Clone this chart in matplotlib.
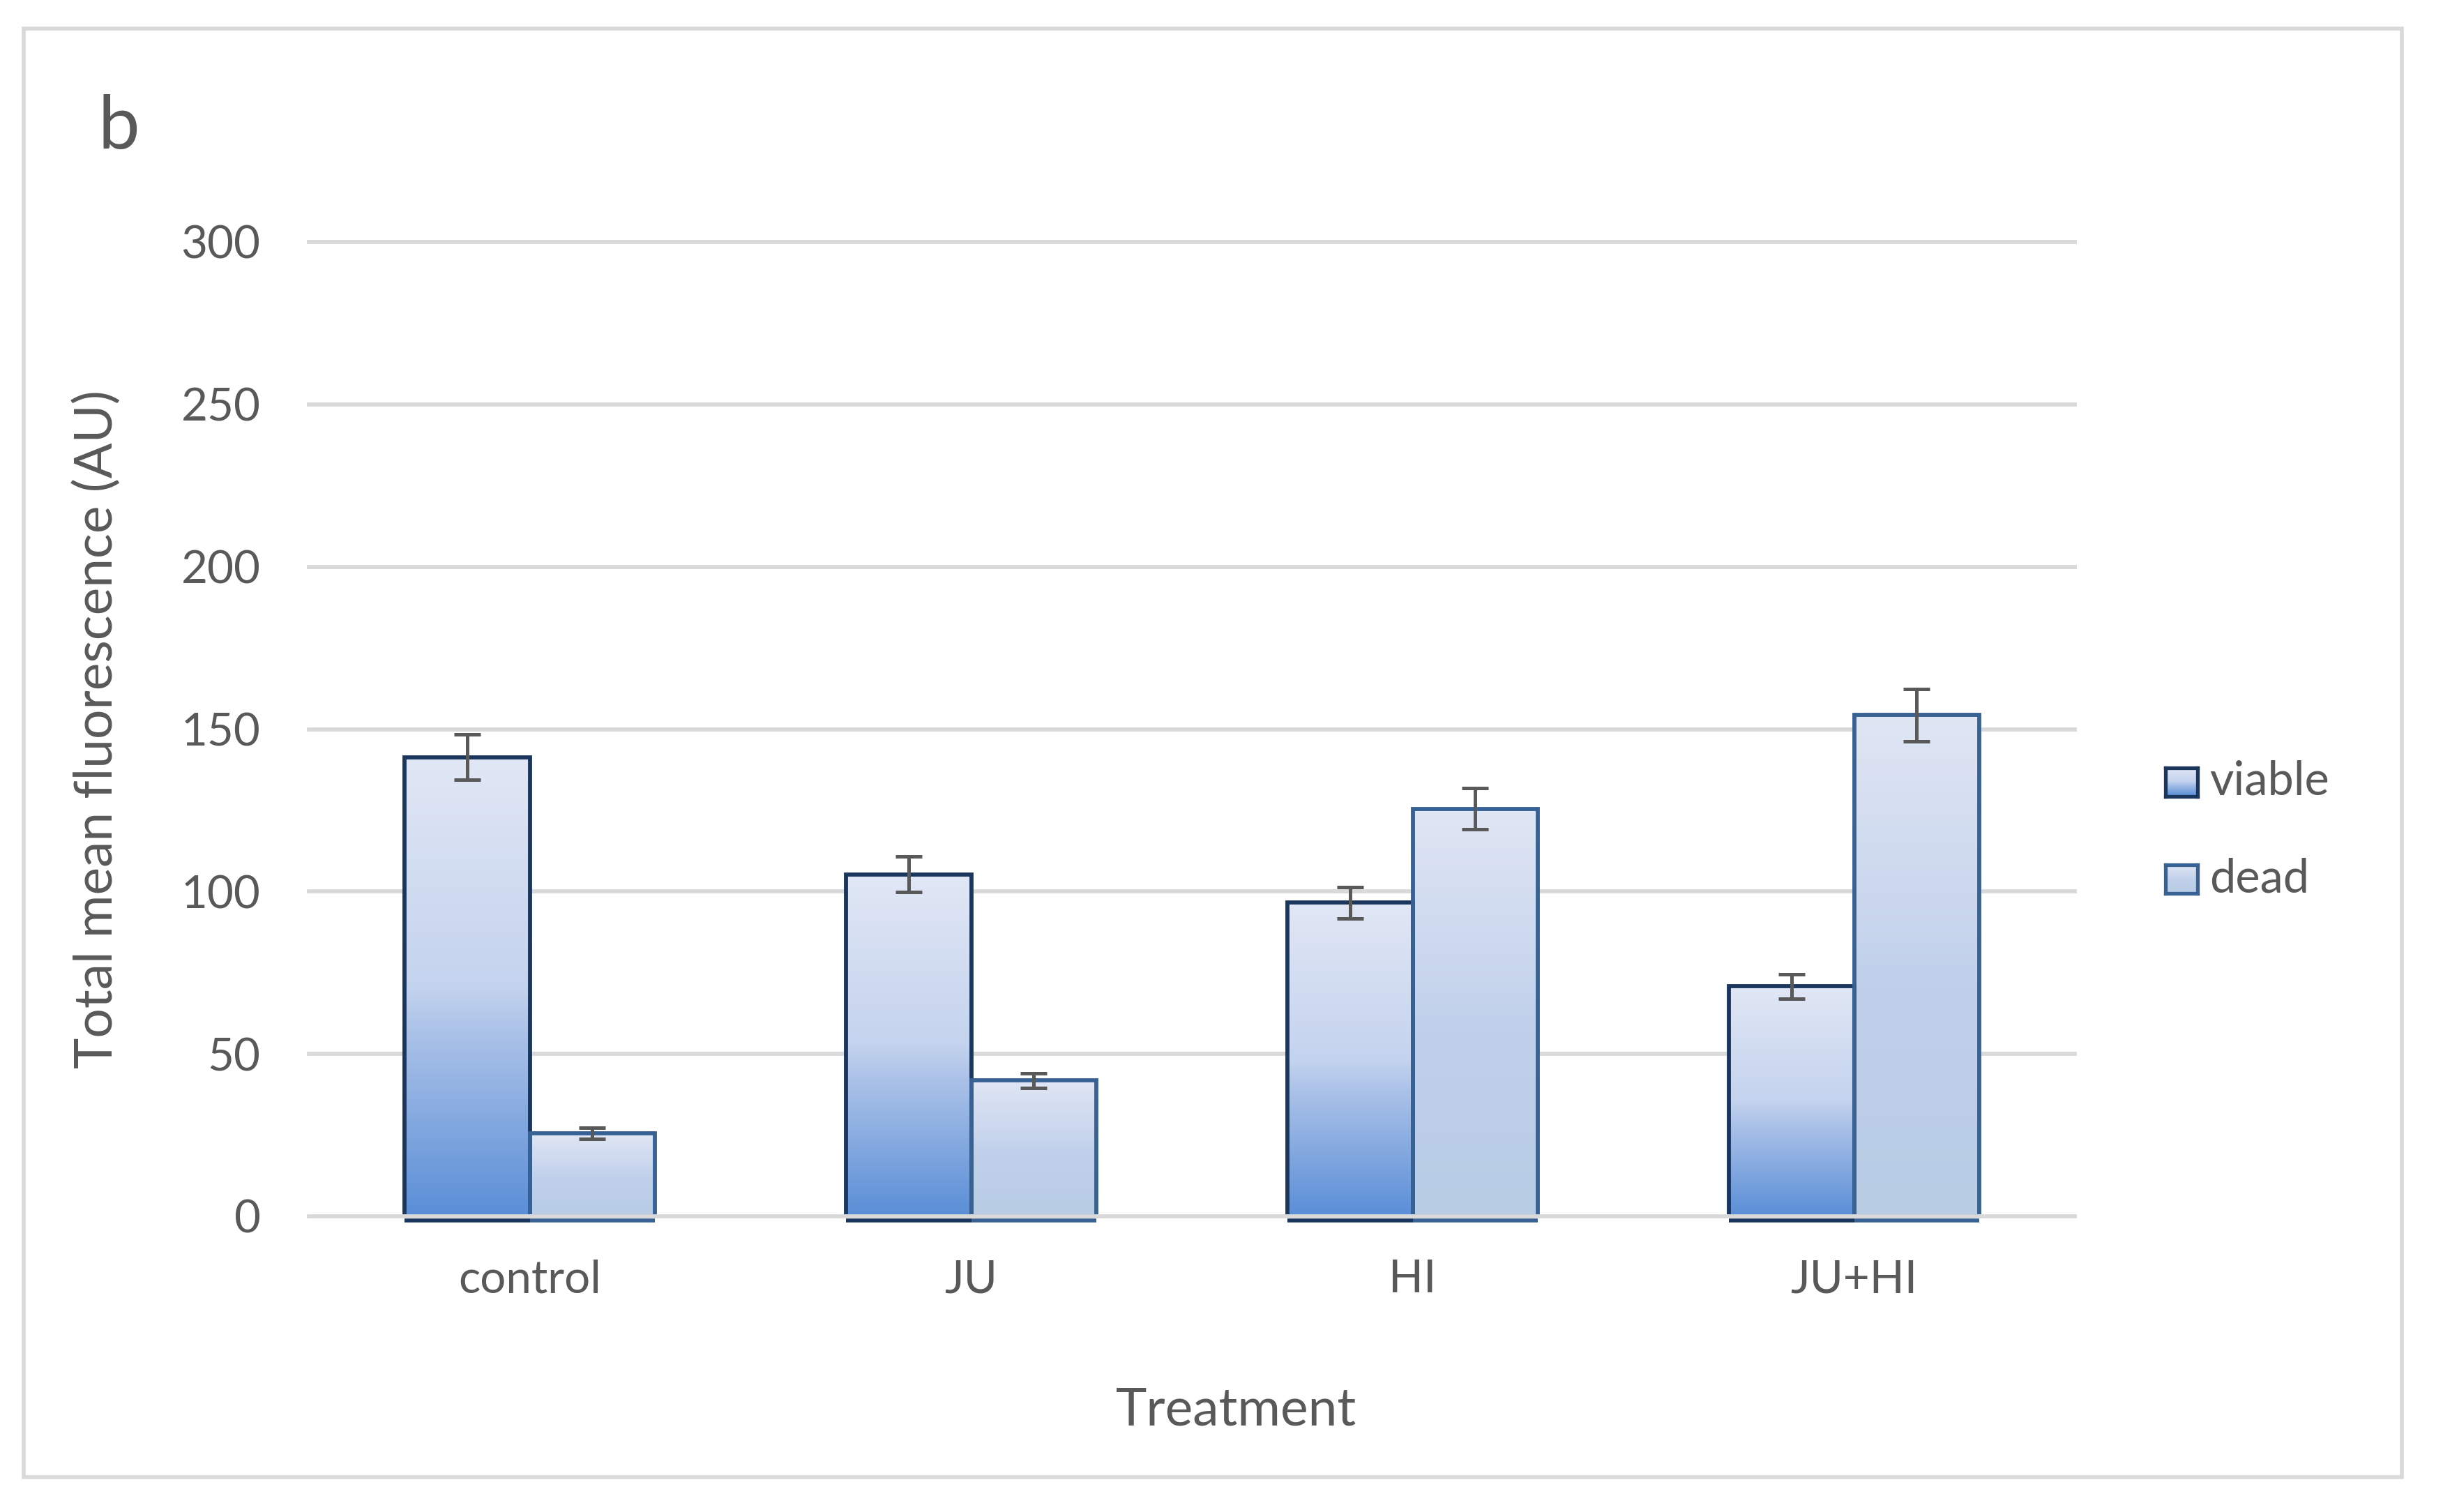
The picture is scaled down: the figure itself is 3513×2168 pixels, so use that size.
import numpy as np
import matplotlib.pyplot as plt
from matplotlib.colors import LinearSegmentedColormap
from matplotlib.patches import Rectangle
from matplotlib.transforms import ScaledTranslation

plt.rcParams['font.family'] = ['Lato', 'DejaVu Sans']

# данные
categories = ["control", "JU", "HI", "JU+HI"]
viable = [141.4, 105.3, 96.6, 70.8]
viable_err = [7.0, 5.5, 4.8, 3.8]
dead = [25.5, 41.8, 125.5, 154.3]
dead_err = [1.7, 2.2, 6.3, 8.1]
series_names = ["viable", "dead"]

text_color = '#595959'
grid_color = '#D9D9D9'
edge_viable = '#1B365D'
edge_dead = '#386194'

W, H = 3513, 2168
fig = plt.figure(figsize=(W / 200, H / 200), dpi=200)

# рамка вокруг всей диаграммы
fig.patches.append(Rectangle((34 / W, 1 - 2118 / H), (3444 - 34) / W, (2118 - 41) / H,
                             transform=fig.transFigure, fill=False,
                             edgecolor=grid_color, linewidth=2))

ax = fig.add_axes([443 / W, 1 - 1744 / H, (2975 - 443) / W, (1744 - 347) / H])

# градиенты как в Excel (сверху вниз)
cmap_viable = LinearSegmentedColormap.from_list(
    'viable', [(0, '#E1E7F5'), (0.5, '#C4D3EE'), (0.6, '#ABC2E8'), (1.0, '#5A8ED7')])
cmap_dead = LinearSegmentedColormap.from_list(
    'dead', [(0, '#E0E6F4'), (0.55, '#C0D0EB'), (1.0, '#B8CCE4')])

x = np.arange(len(categories))
w = 0.284

bars_v = ax.bar(x - w / 2, viable, w, facecolor='none', edgecolor=edge_viable,
                linewidth=2.1, zorder=3)
bars_d = ax.bar(x + w / 2, dead, w, facecolor='none', edgecolor=edge_dead,
                linewidth=2.1, zorder=3)

grad = np.linspace(0, 1, 256).reshape(-1, 1)
# нижняя граница столбцов в Excel видна чуть ниже оси
below = ax.transData + ScaledTranslation(0, -5.5 / 200, fig.dpi_scale_trans)


def fill_gradient(bars, cmap, ec):
    for b in bars:
        x0, y0 = b.get_x(), b.get_y()
        ax.imshow(grad, cmap=cmap, aspect='auto', origin='upper', zorder=2,
                  interpolation='bilinear',
                  extent=[x0, x0 + b.get_width(), y0, y0 + b.get_height()])
        ax.plot([x0, x0 + b.get_width()], [y0, y0], color=ec, linewidth=2.0,
                transform=below, clip_on=False, zorder=3, solid_capstyle='butt')


fill_gradient(bars_v, cmap_viable, edge_viable)
fill_gradient(bars_d, cmap_dead, edge_dead)

ax.errorbar(x - w / 2, viable, yerr=viable_err, fmt='none', ecolor=text_color,
            elinewidth=1.8, capsize=7.0, capthick=1.8, zorder=4)
ax.errorbar(x + w / 2, dead, yerr=dead_err, fmt='none', ecolor=text_color,
            elinewidth=1.8, capsize=7.0, capthick=1.8, zorder=4)

yticks = list(range(0, 301, 50))
for v in yticks:
    ax.axhline(v, color=grid_color, linewidth=2.1, zorder=0 if v else 3.5, clip_on=False)

ax.set_xlim(-0.5, 3.5)
ax.set_ylim(0, 300)
ax.set_yticks(yticks)
ax.set_xticks(x)
ax.set_xticklabels(categories)
for s in ax.spines.values():
    s.set_visible(False)
ax.tick_params(axis='y', length=0, pad=25, labelsize=23.6, colors=text_color)
ax.tick_params(axis='x', length=0, pad=22, labelsize=23.6, colors=text_color)

# подписи осей и буква панели
fig.text(1772 / W, 1 - 2043 / H, "Treatment", ha='center', va='baseline',
         fontsize=27, color=text_color)
fig.text(139 / W, 1 - 1046 / H, "Total mean fluorescence (AU)", rotation=90,
         ha='center', va='center', fontsize=27, color=text_color)
fig.text(140 / W, 1 - 213 / H, "b", ha='left', va='baseline', fontsize=38.4,
         color=text_color)

# легенда вручную, чтобы квадратики были с градиентом
legend_items = [(series_names[0], cmap_viable, edge_viable, 1098, 1139),
                (series_names[1], cmap_dead, edge_dead, 1237, 1280)]
for name, cmap, ec, top, base in legend_items:
    lax = fig.add_axes([3104.5 / W, 1 - (top + 43.5) / H, 46 / W, 41 / H])
    lax.imshow(grad, cmap=cmap, aspect='auto', origin='upper', extent=[0, 1, 0, 1])
    lax.set_xticks([])
    lax.set_yticks([])
    for s in lax.spines.values():
        s.set_edgecolor(ec)
        s.set_linewidth(1.9)
    fig.text(3168 / W, 1 - base / H, name, ha='left', va='baseline', fontsize=24,
             color=text_color)

fig.savefig("out.png", dpi=200, facecolor='white')
